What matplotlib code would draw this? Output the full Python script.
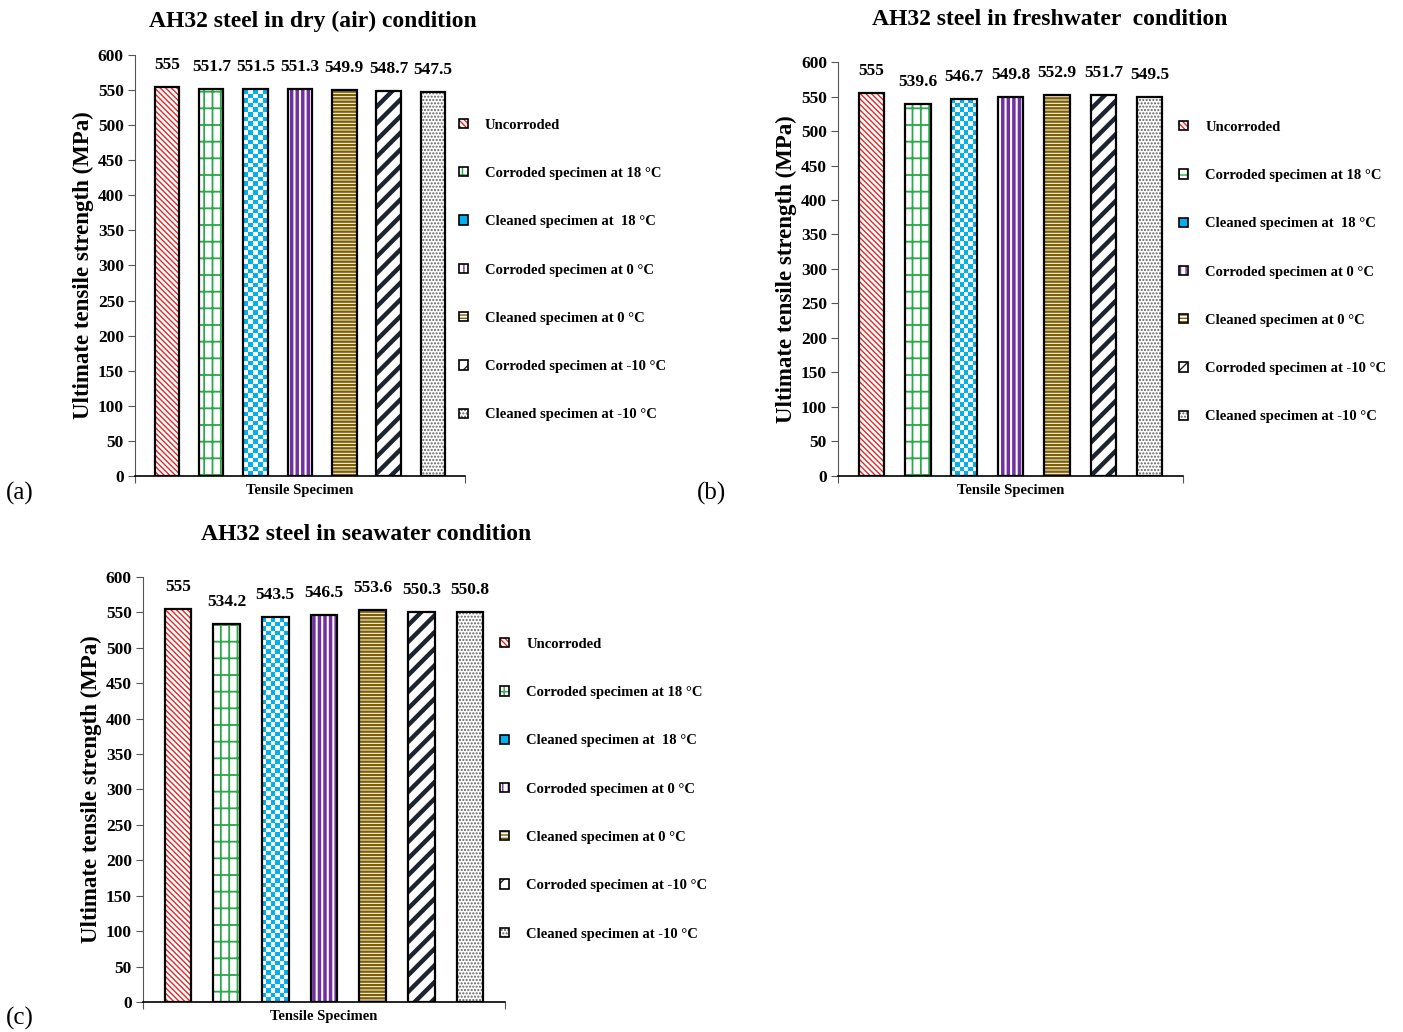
import numpy as np
import matplotlib
matplotlib.use('Agg')
import matplotlib.pyplot as plt
from matplotlib.colors import ListedColormap
from matplotlib.patches import Patch

plt.rcParams['font.family'] = ['Liberation Serif', 'DejaVu Serif']
plt.rcParams['font.weight'] = 'bold'

# data
specimens = ['Uncorroded', 'Corroded specimen at 18 °C', 'Cleaned specimen at  18 °C',
             'Corroded specimen at 0 °C', 'Cleaned specimen at 0 °C',
             'Corroded specimen at -10 °C', 'Cleaned specimen at -10 °C']
dry_uts = [555, 551.7, 551.5, 551.3, 549.9, 548.7, 547.5]
fresh_uts = [555, 539.6, 546.7, 549.8, 552.9, 551.7, 549.5]
sea_uts = [555, 534.2, 543.5, 546.5, 553.6, 550.3, 550.8]
titles = ['AH32 steel in dry (air) condition',
          'AH32 steel in freshwater  condition',
          'AH32 steel in seawater condition']
panel_tags = ['(a)', '(b)', '(c)']
yticks = list(range(0, 601, 50))

# styles
hatch_colors = ['#e02828', '#2aa84a', '#00b0f0', '#7030a0', '#7f6000', '#1c2430', '#5f5f5f']
hatches = ['\\\\\\\\\\\\', '+|', None, '|||', '-----', '//', '.....']
hatch_lw = [1.0, 1.3, 1.0, 2.5, 1.7, 3.2, 1.0]

fig = plt.figure(figsize=(14.03, 10.32), dpi=100)

# axes boxes in figure fractions: left, bottom, width, height
boxes = [(0.0962, 0.5388, 0.2352, 0.4079),
         (0.5973, 0.5388, 0.2459, 0.4011),
         (0.1019, 0.0291, 0.2580, 0.4118)]
title_pos = [(0.223, 0.979), (0.748, 0.981), (0.261, 0.482)]
tag_pos = [(0.004, 0.522), (0.497, 0.522), (0.004, 0.013)]
legend_pos = [(0.327, 0.885), (0.8403, 0.883), (0.3564, 0.382)]


def checker_fill(ax, bar, color, cell_px):
    pos = ax.get_position()
    ax_w = pos.width * fig.get_figwidth() * fig.dpi
    ax_h = pos.height * fig.get_figheight() * fig.dpi
    x0, x1 = ax.get_xlim()
    y0, y1 = ax.get_ylim()
    nx = max(1, int(round(bar.get_width() / (x1 - x0) * ax_w / cell_px)))
    ny = max(1, int(round(bar.get_height() / (y1 - y0) * ax_h / cell_px)))
    grid = np.add.outer(np.arange(ny), np.arange(nx)) % 2
    im = ax.imshow(grid, cmap=ListedColormap(['white', color]),
                   extent=(bar.get_x(), bar.get_x() + bar.get_width(), 0, bar.get_height()),
                   origin='lower', aspect='auto', interpolation='nearest', zorder=2.5)
    im.set_clip_path(bar)


for k, vals in enumerate([dry_uts, fresh_uts, sea_uts]):
    ax = fig.add_axes(boxes[k])
    x = np.arange(len(vals))
    for i in range(len(vals)):
        with plt.rc_context({'hatch.linewidth': hatch_lw[i]}):
            b = ax.bar(x[i], vals[i], 0.55, color='white', edgecolor=hatch_colors[i],
                       hatch=hatches[i], linewidth=0, zorder=2)[0]
        if hasattr(b, 'set_hatch_linewidth'):
            b.set_hatch_linewidth(hatch_lw[i])
        ax.set_xlim(-0.72, 6.72)
        ax.set_ylim(0, 600)
        if hatches[i] is None:
            checker_fill(ax, b, hatch_colors[i], 4.6)
    ax.bar(x, vals, 0.55, fill=False, edgecolor='black', linewidth=1.6, zorder=3)
    for i, v in enumerate(vals):
        ax.annotate(f'{v:g}', (x[i], v), xytext=(0, 10), textcoords='offset points',
                    ha='center', va='bottom', fontsize=12.5, fontweight='bold')
    ax.set_xlim(-0.72, 6.72)
    ax.set_ylim(0, 600)
    ax.set_yticks(yticks)
    ax.set_xticks([-0.72, 6.72])
    ax.set_xticklabels(['', ''])
    ax.tick_params(axis='y', labelsize=12.5, length=5, color='#555555', pad=3)
    ax.tick_params(axis='x', length=5, color='#555555')
    for lab in ax.get_yticklabels():
        lab.set_fontweight('bold')
    for s in ['top', 'right']:
        ax.spines[s].set_visible(False)
    ax.spines['left'].set_color('#555555')
    ax.spines['bottom'].set_linewidth(1.2)
    ax.set_ylabel('Ultimate tensile strength (MPa)', fontsize=16.5, fontweight='bold', labelpad=3)
    ax.set_xlabel('Tensile Specimen', fontsize=10.5, fontweight='bold', labelpad=-3)

    handles = []
    for i in range(len(specimens)):
        if hatches[i] is None:
            handles.append(Patch(facecolor=hatch_colors[i], edgecolor='black', linewidth=1.2))
        else:
            handles.append((Patch(facecolor='white', edgecolor=hatch_colors[i], hatch=hatches[i], linewidth=0),
                            Patch(fill=False, edgecolor='black', linewidth=1.2)))
    fig.legend(handles, specimens, loc='upper left', bbox_to_anchor=legend_pos[k],
               bbox_transform=fig.transFigure, frameon=False, fontsize=10.5,
               handlelength=0.6, handleheight=0.6, handletextpad=1.2,
               labelspacing=2.42, borderpad=0, borderaxespad=0)

    fig.text(title_pos[k][0], title_pos[k][1], titles[k], ha='center', va='center',
             fontsize=17, fontweight='bold')
    fig.text(tag_pos[k][0], tag_pos[k][1], panel_tags[k], ha='left', va='center',
             fontsize=18, fontweight='normal')

fig.savefig('out.png', dpi=100)
